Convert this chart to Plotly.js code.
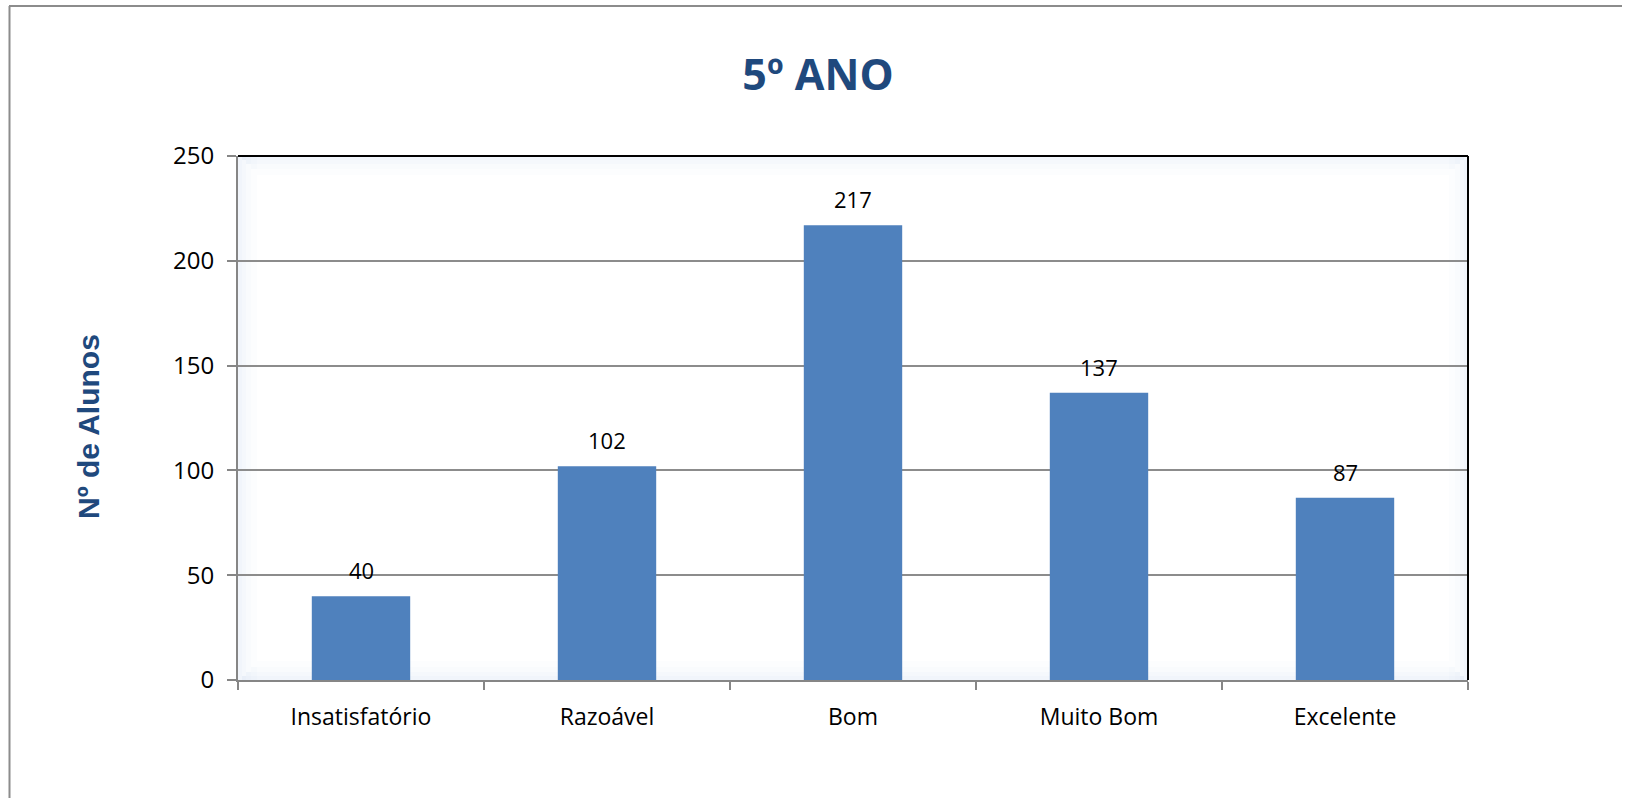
<!DOCTYPE html>
<html>
<head>
<meta charset="utf-8">
<script src="https://cdn.plot.ly/plotly-3.0.1.min.js"></script>
<style>
html,body{margin:0;padding:0;background:#fff;}
#chart{width:1636px;height:798px;}
</style>
</head>
<body>
<div id="chart"></div>
<script>
const categories = ["Insatisfatório", "Razoável", "Bom", "Muito Bom", "Excelente"];
const values = [40, 102, 217, 137, 87];
const yTicks = [0, 50, 100, 150, 200, 250];
const titleText = "5º ANO";
const yTitleText = "Nº de Alunos";

const trace = {
  type: "bar",
  x: categories,
  y: values,
  width: 0.4,
  marker: {color: "#4F81BD", line: {width: 0}},
  hoverinfo: "x+y"
};

const labelAnnotations = categories.map((c, i) => ({
  x: c, y: values[i], xref: "x", yref: "y",
  text: String(values[i]), showarrow: false,
  yshift: 26,
  font: {family: "Open Sans, sans-serif", size: 22, color: "#000"}
}));

// soft inner glow of the plot area (decoration)
const PW = 1230, PH = 524;
const glow = [];
const steps = [[0, 4, 0.22], [4, 8, 0.15], [8, 13, 0.09], [13, 19, 0.04]];
steps.forEach(([a, b, op]) => {
  const fill = "rgba(190,210,238," + op + ")";
  const base = {type: "rect", xref: "x domain", yref: "y domain", layer: "below", line: {width: 0}, fillcolor: fill};
  glow.push(Object.assign({}, base, {x0: a/PW, x1: b/PW, y0: 0, y1: 1}));
  glow.push(Object.assign({}, base, {x0: 1 - b/PW, x1: 1 - a/PW, y0: 0, y1: 1}));
  glow.push(Object.assign({}, base, {x0: b/PW, x1: 1 - b/PW, y0: a/PH, y1: b/PH}));
  glow.push(Object.assign({}, base, {x0: b/PW, x1: 1 - b/PW, y0: 1 - b/PH, y1: 1 - a/PH}));
});

const layout = {
  width: 1636, height: 798,
  margin: {l: 238, r: 168, t: 156, b: 118, pad: 0},
  paper_bgcolor: "#fff",
  plot_bgcolor: "#fff",
  showlegend: false,
  bargap: 0.6,
  title: {
    text: titleText,
    x: 0.5, xref: "container", xanchor: "center",
    y: 1 - 75/798, yref: "container", yanchor: "middle",
    font: {family: "Open Sans, sans-serif", size: 43, color: "#1F497D", weight: "bold"}
  },
  xaxis: {
    type: "category",
    showgrid: false,
    showline: true, linecolor: "#868686", linewidth: 2,
    ticks: "outside", tickson: "boundaries", ticklen: 8, tickwidth: 2, tickcolor: "#868686",
    tickfont: {family: "Open Sans, sans-serif", size: 23, color: "#000"},
    ticklabelstandoff: 15,
    zeroline: false, fixedrange: true
  },
  yaxis: {
    range: [0, 250],
    tickvals: yTicks,
    ticktext: yTicks.map(String),
    showgrid: true, gridcolor: "#8C8C8C", gridwidth: 1.5,
    showline: true, linecolor: "#868686", linewidth: 2,
    ticks: "outside", ticklen: 9, tickwidth: 2, tickcolor: "#868686",
    tickfont: {family: "Open Sans, sans-serif", size: 24, color: "#000"},
    ticklabelstandoff: 8,
    zeroline: false, fixedrange: true
  },
  annotations: labelAnnotations.concat([{
    text: yTitleText, xref: "paper", yref: "paper",
    x: (88 - 238)/PW, y: (680 - 427)/PH, xanchor: "center", yanchor: "middle",
    textangle: -90, showarrow: false,
    font: {family: "Liberation Sans, Arial, sans-serif", size: 30, color: "#1F497D", weight: "bold"}
  }]),
  shapes: glow.concat([
    {type: "line", xref: "x domain", yref: "y domain", x0: 0, x1: 1, y0: 1, y1: 1,
     line: {color: "#000", width: 2}},
    {type: "line", xref: "x domain", yref: "y domain", x0: 1, x1: 1, y0: 0, y1: 1,
     line: {color: "#000", width: 2}},
    {type: "line", xref: "paper", yref: "paper",
     x0: (9-238)/PW, x1: (1622-238)/PW, y0: (798-118-6)/PH, y1: (798-118-6)/PH,
     line: {color: "#8C8C8C", width: 2}},
    {type: "line", xref: "paper", yref: "paper",
     x0: (9.5-238)/PW, x1: (9.5-238)/PW, y0: (798-118-6)/PH, y1: -118/PH,
     line: {color: "#8C8C8C", width: 2}}
  ])
};

Plotly.newPlot("chart", [trace], layout, {displayModeBar: false});
</script>
</body>
</html>
